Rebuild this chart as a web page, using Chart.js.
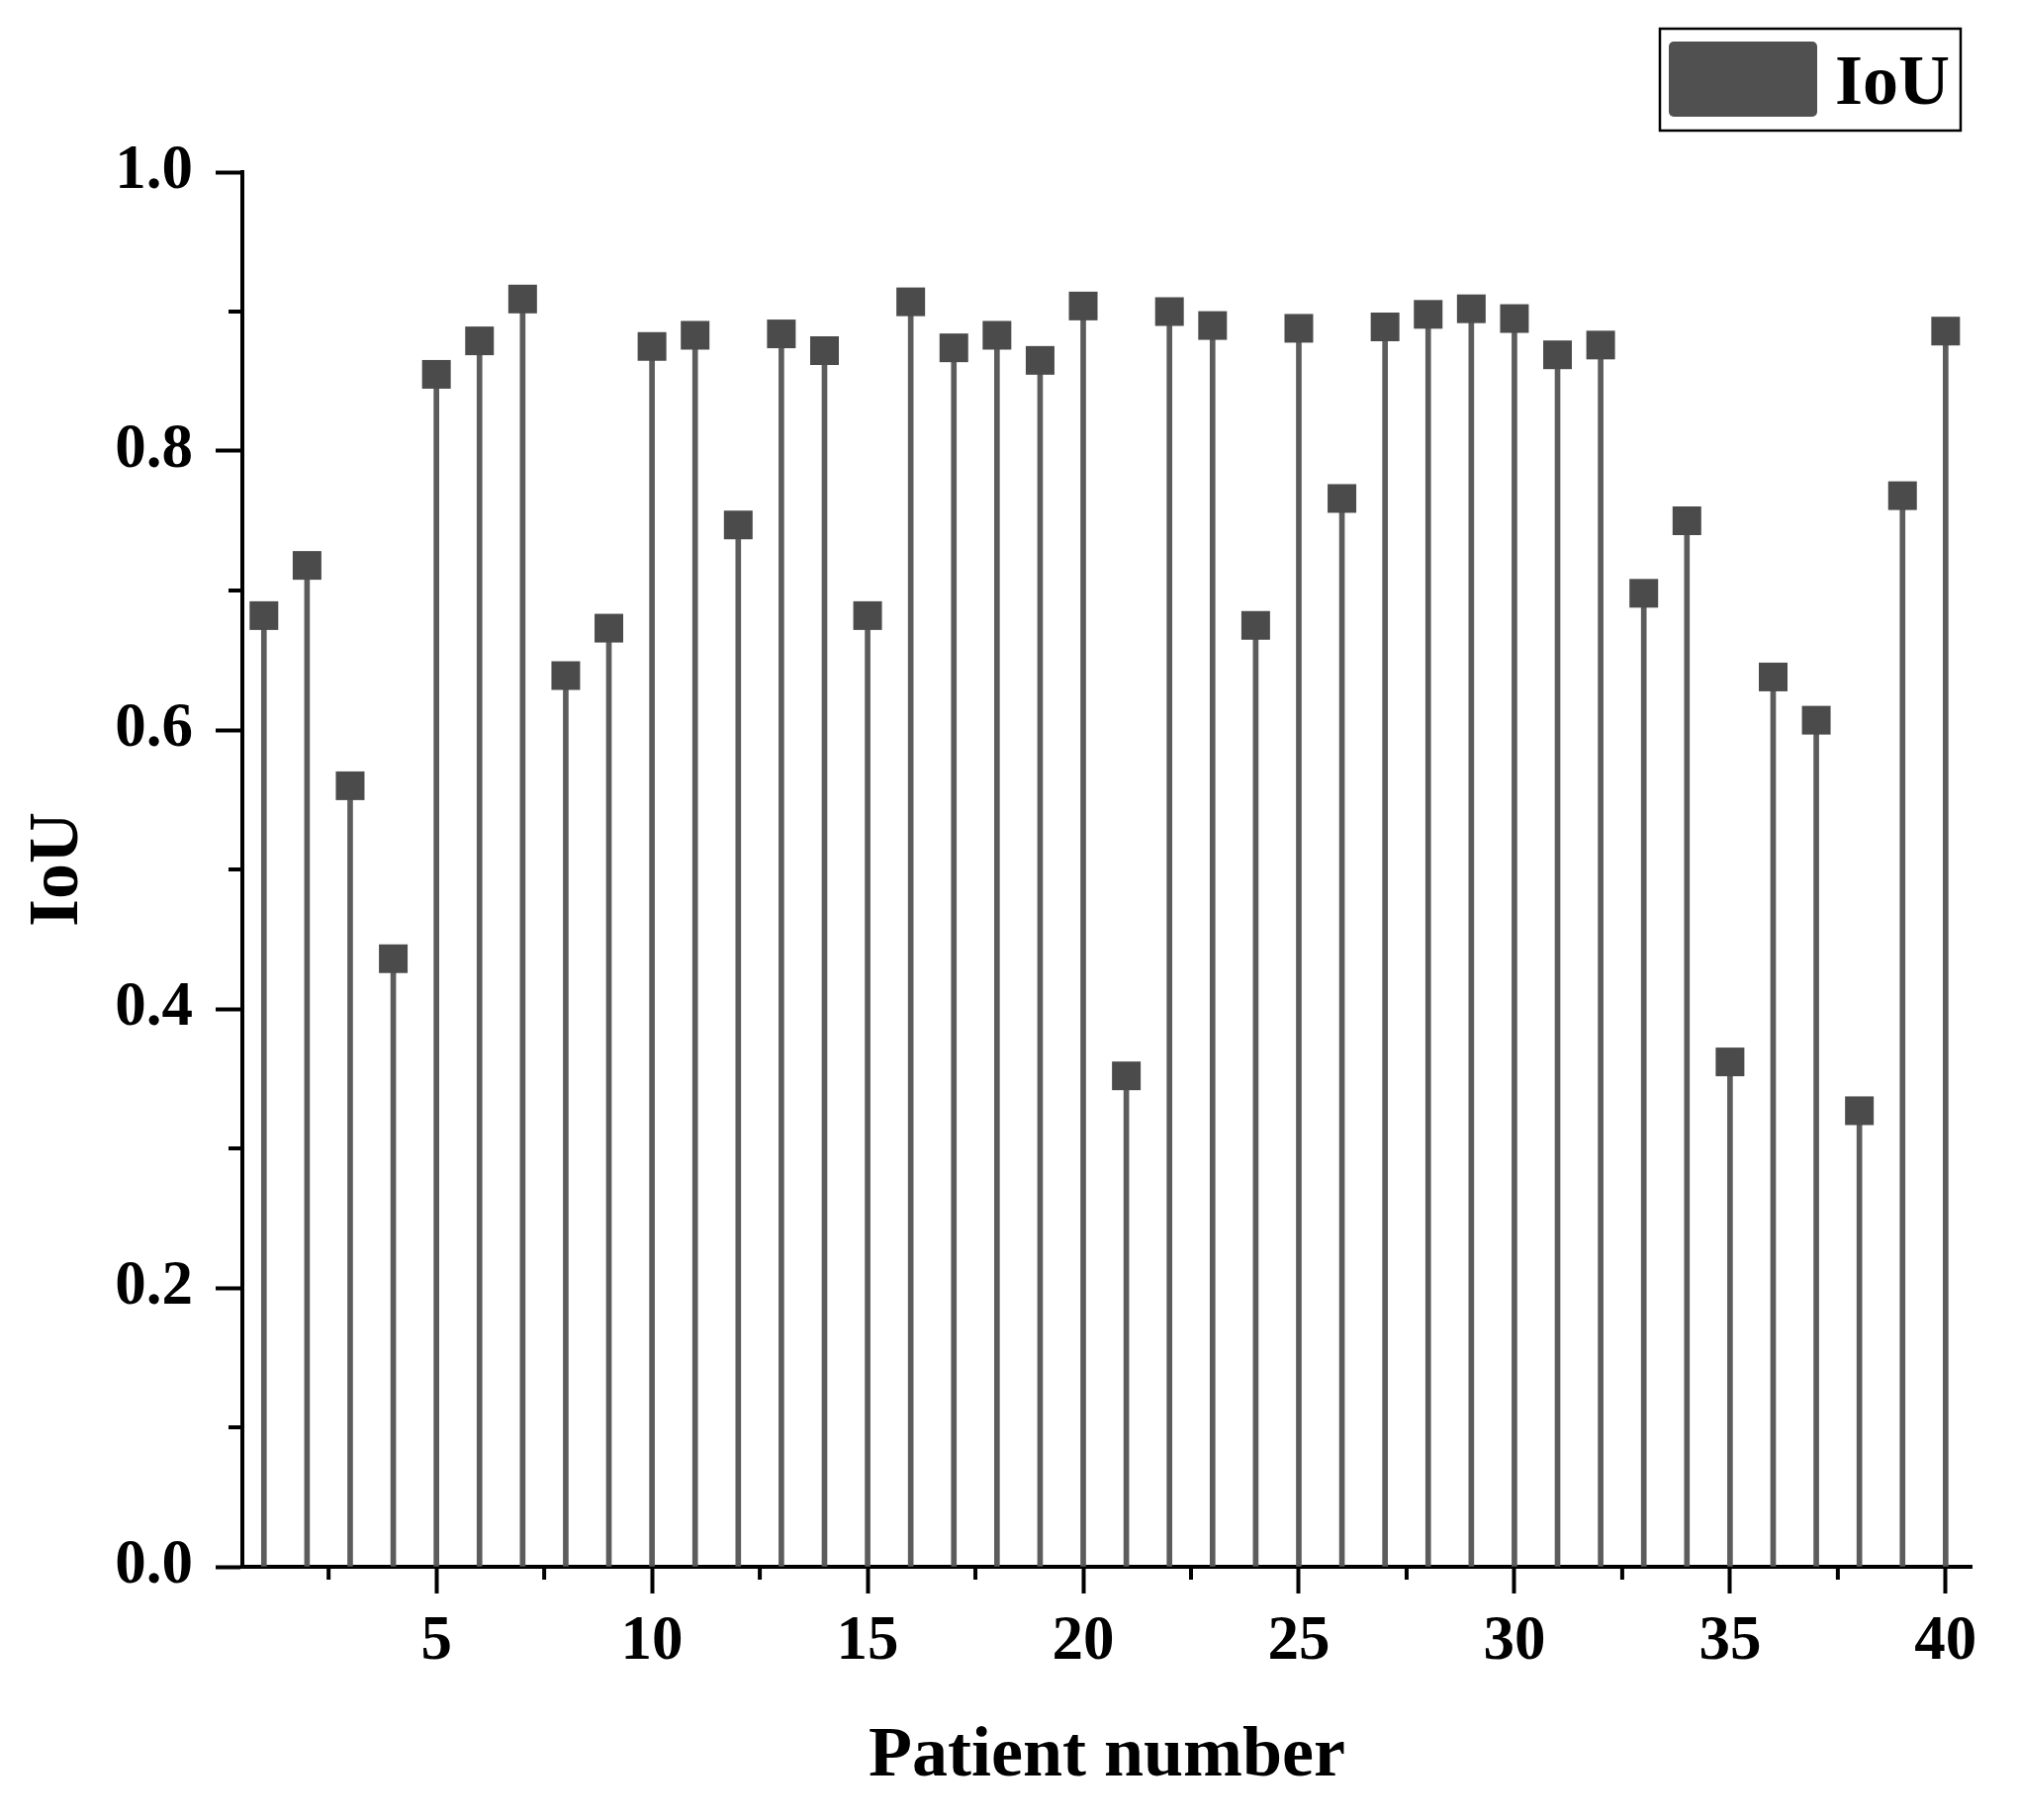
<!DOCTYPE html>
<html>
<head>
<meta charset="utf-8">
<script src="https://cdn.jsdelivr.net/npm/chart.js@4.4.1/dist/chart.umd.min.js"></script>
<style>
  html, body { margin: 0; padding: 0; background: #fff; }
  #wrap { width: 2040px; height: 1840px; }
</style>
</head>
<body>
<div id="wrap"><canvas id="iou-chart"></canvas></div>
<script>
// data
const patients = [1, 2, 3, 4, 5, 6, 7, 8, 9, 10,
                  11, 12, 13, 14, 15, 16, 17, 18, 19, 20,
                  21, 22, 23, 24, 25, 26, 27, 28, 29, 30,
                  31, 32, 33, 34, 35, 36, 37, 38, 39, 40];
const iouValues = [0.682, 0.718, 0.560, 0.436, 0.855, 0.879, 0.909, 0.639, 0.673, 0.875,
                   0.883, 0.747, 0.884, 0.872, 0.682, 0.907, 0.874, 0.883, 0.865, 0.904,
                   0.352, 0.900, 0.890, 0.675, 0.888, 0.766, 0.889, 0.898, 0.902, 0.895,
                   0.869, 0.876, 0.698, 0.750, 0.362, 0.638, 0.607, 0.327, 0.768, 0.886];
const xMajorTicks = [5, 10, 15, 20, 25, 30, 35, 40];
const xMinorTicks = [2.5, 7.5, 12.5, 17.5, 22.5, 27.5, 32.5, 37.5];
const yMajorTicks = [0, 0.2, 0.4, 0.6, 0.8, 1.0];
const yMinorTicks = [0.1, 0.3, 0.5, 0.7, 0.9];
const seriesLabel = 'IoU';
const xTitle = 'Patient number';
const yTitle = 'IoU';

const FONT = '"Liberation Serif", "Times New Roman", serif';
const points = patients.map((p, i) => ({ x: p, y: iouValues[i] }));

// 副目盛り（Chart.js に minor tick が無いので自前で描く）
const minorTicks = {
    id: 'minorTicks',
    afterDraw(chart) {
        const { ctx, chartArea, scales } = chart;
        ctx.save();
        ctx.strokeStyle = '#000';
        ctx.lineWidth = 4;
        ctx.beginPath();
        xMinorTicks.forEach(v => {
            const px = scales.x.getPixelForValue(v);
            ctx.moveTo(px, chartArea.bottom);
            ctx.lineTo(px, chartArea.bottom + 13);
        });
        yMinorTicks.forEach(v => {
            const py = scales.y.getPixelForValue(v);
            ctx.moveTo(chartArea.left, py);
            ctx.lineTo(chartArea.left - 14, py);
        });
        ctx.stroke();
        ctx.restore();
    }
};

// 枠付きの凡例
const framedLegend = {
    id: 'framedLegend',
    afterDraw(chart) {
        const ctx = chart.ctx;
        ctx.save();
        ctx.strokeStyle = '#000';
        ctx.lineWidth = 2.5;
        ctx.strokeRect(1678, 29, 304, 103);
        ctx.fillStyle = '#505050';
        ctx.beginPath();
        ctx.roundRect(1687, 42, 150, 76, 5);
        ctx.fill();
        ctx.fillStyle = '#000';
        ctx.font = 'bold 72px ' + FONT;
        ctx.textBaseline = 'alphabetic';
        ctx.fillText(seriesLabel, 1855, 105);
        ctx.restore();
    }
};

const ctx = document.getElementById('iou-chart').getContext('2d');
new Chart(ctx, {
    type: 'bar',
    data: {
        datasets: [
            {
                type: 'scatter',
                label: seriesLabel,
                data: points,
                order: 0,
                pointStyle: 'rect',
                pointRadius: 20.5,
                pointHoverRadius: 20.5,
                pointBorderWidth: 0,
                backgroundColor: '#4b4b4b',
                borderColor: '#4b4b4b'
            },
            {
                type: 'bar',
                label: 'stem',
                data: points,
                order: 1,
                barThickness: 5,
                backgroundColor: '#5c5c5c',
                borderWidth: 0
            }
        ]
    },
    options: {
        responsive: true,
        maintainAspectRatio: false,
        devicePixelRatio: 1,
        animation: false,
        layout: { padding: { top: 174, right: 47, bottom: 0, left: 0 } },
        plugins: {
            legend: { display: false },
            tooltip: { enabled: false }
        },
        scales: {
            x: {
                type: 'linear',
                offset: false,
                min: 0.5,
                max: 40.6,
                afterBuildTicks: scale => { scale.ticks = xMajorTicks.map(v => ({ value: v })); },
                afterFit: scale => { scale.height = 256; },
                grid: { offset: false, drawOnChartArea: false, drawTicks: true, tickLength: 27, tickWidth: 4, tickColor: '#000' },
                border: { display: true, color: '#000', width: 4 },
                ticks: {
                    color: '#000',
                    padding: 12,
                    maxRotation: 0,
                    autoSkip: false,
                    font: { family: FONT, size: 63, weight: 'bold' }
                },
                title: {
                    display: true,
                    text: xTitle,
                    color: '#000',
                    padding: { top: 0, bottom: 20 },
                    font: { family: FONT, size: 72, weight: 'bold' }
                }
            },
            y: {
                min: 0,
                max: 1.0,
                afterBuildTicks: scale => { scale.ticks = yMajorTicks.map(v => ({ value: v })); },
                afterFit: scale => { scale.width = 245; },
                grid: { drawOnChartArea: false, drawTicks: true, tickLength: 27, tickWidth: 4, tickColor: '#000' },
                border: { display: true, color: '#000', width: 4 },
                ticks: {
                    color: '#000',
                    padding: 23,
                    callback: v => Number(v).toFixed(1),
                    font: { family: FONT, size: 63, weight: 'bold' }
                },
                title: {
                    display: true,
                    text: yTitle,
                    color: '#000',
                    padding: { top: 16, bottom: 0 },
                    font: { family: FONT, size: 72, weight: 'bold' }
                }
            }
        }
    },
    plugins: [minorTicks, framedLegend]
});
</script>
</body>
</html>
